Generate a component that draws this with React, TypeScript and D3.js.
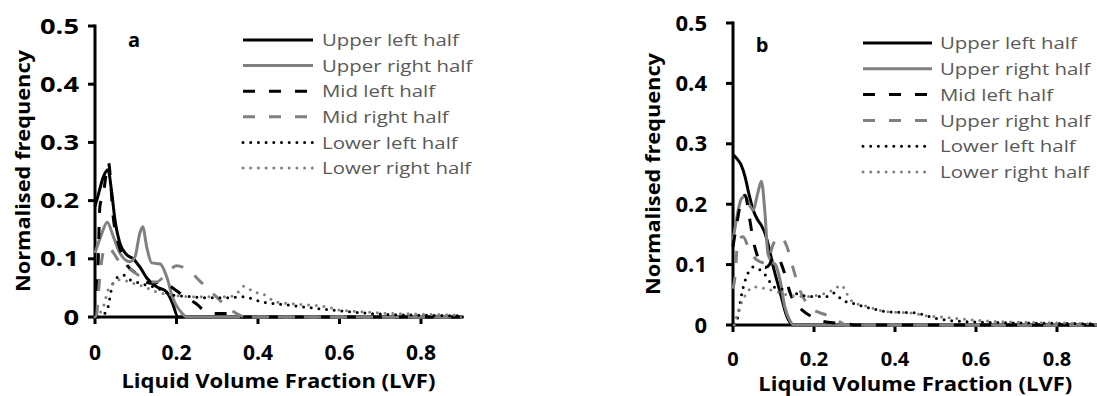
import React from 'react';
import * as d3 from 'd3';

type Pt = [number, number];

const xTicks = [0, 0.2, 0.4, 0.6, 0.8];
const yTicks = [0, 0.1, 0.2, 0.3, 0.4, 0.5];
const xTitle = 'Liquid Volume Fraction (LVF)';
const yTitle = 'Normalised frequency';

const labelsA = ['Upper left half', 'Upper right half', 'Mid left half', 'Mid right half', 'Lower left half', 'Lower right half'];
const labelsB = ['Upper left half', 'Upper right half', 'Mid left half', 'Upper right half', 'Lower left half', 'Lower right half'];

// Panel a
const aUpperLeft: Pt[] = [[0, 0.19], [0.01, 0.215], [0.02, 0.24], [0.032, 0.253], [0.04, 0.22], [0.049, 0.167], [0.061, 0.127], [0.078, 0.107], [0.094, 0.1], [0.11, 0.086], [0.127, 0.067], [0.151, 0.052], [0.176, 0.043], [0.19, 0.024], [0.204, 0], [0.9, 0]];
const aUpperRight: Pt[] = [[0, 0.11], [0.015, 0.14], [0.03, 0.163], [0.045, 0.138], [0.061, 0.11], [0.086, 0.095], [0.098, 0.103], [0.11, 0.144], [0.117, 0.155], [0.127, 0.12], [0.139, 0.093], [0.16, 0.091], [0.176, 0.069], [0.19, 0.035], [0.213, 0.007], [0.225, 0], [0.9, 0]];
const aMidLeft: Pt[] = [[0.003, 0], [0.008, 0.1], [0.012, 0.19], [0.02, 0.21], [0.033, 0.265], [0.045, 0.17], [0.06, 0.12], [0.078, 0.09], [0.1, 0.075], [0.12, 0.062], [0.14, 0.058], [0.16, 0.06], [0.18, 0.055], [0.2, 0.045], [0.22, 0.035], [0.25, 0.022], [0.27, 0.01], [0.3, 0.006], [0.33, 0.006], [0.35, 0], [0.9, 0]];
const aMidRight: Pt[] = [[0.004, 0], [0.012, 0.07], [0.025, 0.12], [0.04, 0.115], [0.06, 0.095], [0.08, 0.085], [0.1, 0.075], [0.12, 0.065], [0.15, 0.06], [0.17, 0.07], [0.2, 0.088], [0.23, 0.08], [0.26, 0.06], [0.29, 0.04], [0.32, 0.02], [0.35, 0.005], [0.37, 0], [0.9, 0]];
const aLowerLeft: Pt[] = [[0.008, 0], [0.02, 0.004], [0.03, 0.012], [0.037, 0.035], [0.041, 0.05], [0.053, 0.067], [0.069, 0.072], [0.086, 0.064], [0.11, 0.058], [0.151, 0.05], [0.19, 0.038], [0.233, 0.035], [0.28, 0.033], [0.33, 0.033], [0.36, 0.035], [0.41, 0.026], [0.48, 0.02], [0.58, 0.012], [0.7, 0.005], [0.8, 0.003], [0.9, 0.002]];
const aLowerRight: Pt[] = [[0, 0], [0.02, 0.017], [0.032, 0.046], [0.045, 0.058], [0.061, 0.064], [0.094, 0.058], [0.127, 0.05], [0.151, 0.043], [0.19, 0.038], [0.23, 0.035], [0.33, 0.035], [0.356, 0.046], [0.365, 0.053], [0.39, 0.043], [0.41, 0.04], [0.445, 0.026], [0.5, 0.022], [0.57, 0.017], [0.6, 0.012], [0.66, 0.009], [0.7, 0.007], [0.8, 0.005], [0.9, 0.003]];

// Panel b
const bUpperLeft: Pt[] = [[0, 0.282], [0.01, 0.275], [0.02, 0.265], [0.03, 0.245], [0.04, 0.215], [0.05, 0.19], [0.06, 0.175], [0.07, 0.165], [0.08, 0.15], [0.09, 0.125], [0.1, 0.095], [0.11, 0.07], [0.12, 0.045], [0.13, 0.02], [0.14, 0.005], [0.15, 0], [0.9, 0]];
const bUpperRight: Pt[] = [[0, 0.14], [0.01, 0.18], [0.02, 0.208], [0.03, 0.213], [0.04, 0.2], [0.05, 0.19], [0.06, 0.215], [0.07, 0.238], [0.079, 0.185], [0.086, 0.119], [0.095, 0.105], [0.105, 0.1], [0.116, 0.075], [0.128, 0.03], [0.14, 0.008], [0.15, 0], [0.9, 0]];
const bMidLeft: Pt[] = [[0, 0.13], [0.01, 0.17], [0.02, 0.205], [0.03, 0.215], [0.04, 0.18], [0.05, 0.14], [0.06, 0.115], [0.07, 0.1], [0.08, 0.095], [0.09, 0.1], [0.1, 0.113], [0.11, 0.115], [0.12, 0.1], [0.13, 0.08], [0.14, 0.055], [0.15, 0.04], [0.17, 0.025], [0.2, 0.012], [0.23, 0.005], [0.28, 0.002], [0.3, 0], [0.9, 0]];
const bMidRight: Pt[] = [[0, 0.06], [0.005, 0.08], [0.012, 0.14], [0.025, 0.146], [0.037, 0.13], [0.058, 0.108], [0.083, 0.102], [0.1, 0.135], [0.116, 0.146], [0.133, 0.13], [0.148, 0.095], [0.165, 0.058], [0.19, 0.03], [0.215, 0.02], [0.247, 0.013], [0.264, 0.005], [0.28, 0], [0.9, 0]];
const bLowerLeft: Pt[] = [[0.005, 0], [0.01, 0.008], [0.022, 0.053], [0.037, 0.086], [0.05, 0.096], [0.067, 0.091], [0.083, 0.08], [0.1, 0.063], [0.133, 0.058], [0.165, 0.05], [0.198, 0.047], [0.23, 0.047], [0.25, 0.053], [0.27, 0.041], [0.296, 0.036], [0.338, 0.028], [0.38, 0.022], [0.45, 0.02], [0.5, 0.011], [0.56, 0.006], [0.65, 0.004], [0.75, 0.003], [0.9, 0.002]];
const bLowerRight: Pt[] = [[0.003, 0], [0.017, 0.03], [0.034, 0.053], [0.05, 0.063], [0.075, 0.061], [0.108, 0.055], [0.133, 0.05], [0.173, 0.047], [0.215, 0.05], [0.247, 0.058], [0.268, 0.066], [0.28, 0.053], [0.296, 0.038], [0.33, 0.031], [0.38, 0.022], [0.44, 0.02], [0.48, 0.015], [0.52, 0.013], [0.58, 0.009], [0.64, 0.006], [0.75, 0.004], [0.88, 0.002], [0.9, 0.001]];

const seriesA = [aUpperLeft, aUpperRight, aMidLeft, aMidRight, aLowerLeft, aLowerRight];
const seriesB = [bUpperLeft, bUpperRight, bMidLeft, bMidRight, bLowerLeft, bLowerRight];

const GREY = '#808080';
const STYLES = [
  { color: '#000', dash: undefined as string | undefined, cap: 'butt' },
  { color: GREY, dash: undefined as string | undefined, cap: 'butt' },
  { color: '#000', dash: '12 14', cap: 'butt' },
  { color: GREY, dash: '12 14', cap: 'butt' },
  { color: '#000', dash: '0 7.7', cap: 'round' },
  { color: GREY, dash: '0 7.7', cap: 'round' },
];

const FONT = '"Open Sans", "Noto Sans", sans-serif';

interface PanelCfg {
  letter: string;
  letterX: number;
  letterY: number;
  x0: number;
  xUnit: number;
  y0: number;
  yTop: number;
  xTickY: number;
  xTickSize: number;
  xTitleY: number;
  xTitleSize: number;
  yTickRight: number;
  yTickSx: number;
  yTitleX: number;
  yTitleY: number;
  legLineX0: number;
  legLineX1: number;
  legTextX: number;
  legY0: number;
  legStep: number;
  labels: string[];
  series: Pt[][];
}

const panels: PanelCfg[] = [
  {
    letter: 'a', letterX: 134, letterY: 47,
    x0: 95, xUnit: 407.5, y0: 317, yTop: 26,
    xTickY: 360, xTickSize: 21, xTitleY: 388, xTitleSize: 20, yTickRight: 79, yTickSx: 1.3, yTitleX: 23, yTitleY: 171,
    legLineX0: 243, legLineX1: 313, legTextX: 322, legY0: 40, legStep: 25.6,
    labels: labelsA, series: seriesA,
  },
  {
    letter: 'b', letterX: 762, letterY: 52,
    x0: 733, xUnit: 405, y0: 325, yTop: 23,
    xTickY: 365.5, xTickSize: 20, xTitleY: 390.5, xTitleSize: 19, yTickRight: 707, yTickSx: 1.05, yTitleX: 653, yTitleY: 174,
    legLineX0: 863, legLineX1: 932, legTextX: 940, legY0: 43, legStep: 25.8,
    labels: labelsB, series: seriesB,
  },
];

function Panel({ p }: { p: PanelCfg }) {
  const x = d3.scaleLinear().domain([0, 0.9]).range([p.x0, p.x0 + 0.9 * p.xUnit]);
  const y = d3.scaleLinear().domain([0, 0.5]).range([p.y0, p.yTop]);
  const line = d3.line<Pt>().x(d => x(d[0])).y(d => y(d[1])).curve(d3.curveMonotoneX);
  const xr = x.range();
  const fmt = (v: number) => (v === 0 ? '0' : v.toFixed(1));
  return (
    <g>
      {/* axes */}
      <line x1={xr[0]} x2={xr[1] + 2} y1={p.y0} y2={p.y0} stroke="#000" strokeWidth={3} />
      <line x1={p.x0} x2={p.x0} y1={p.yTop - 1.5} y2={p.y0 + 1.5} stroke="#000" strokeWidth={3} />
      {xTicks.map(t => (
        <line key={'xt' + t} x1={x(t)} x2={x(t)} y1={p.y0} y2={p.y0 + 7} stroke="#000" strokeWidth={3} />
      ))}
      {yTicks.map(t => (
        <line key={'yt' + t} x1={p.x0 - 7} x2={p.x0} y1={y(t)} y2={y(t)} stroke="#000" strokeWidth={3} />
      ))}
      {/* series */}
      {p.series.map((s, i) => (
        <path key={'s' + i} d={line(s) || ''} fill="none" stroke={STYLES[i].color} strokeWidth={3}
          strokeDasharray={STYLES[i].dash} strokeLinecap={STYLES[i].cap as any} strokeLinejoin="round" />
      ))}
      {/* tick labels */}
      {xTicks.map(t => (
        <text key={'xl' + t} x={x(t)} y={p.xTickY} textAnchor="middle" fontFamily={FONT} fontWeight="bold" fontSize={p.xTickSize} fill="#000">{fmt(t)}</text>
      ))}
      {yTicks.map(t => (
        <text key={'yl' + t} transform={`translate(${p.yTickRight},${y(t)}) scale(${p.yTickSx},1)`} dy="0.36em" textAnchor="end" fontFamily={FONT} fontWeight="bold" fontSize={21} fill="#000">{fmt(t)}</text>
      ))}
      <text x={(xr[0] + xr[1]) / 2} y={p.xTitleY} textAnchor="middle" fontFamily={FONT} fontWeight="bold" fontSize={p.xTitleSize}
        textLength={314} lengthAdjust="spacingAndGlyphs" fill="#000">{xTitle}</text>
      <text transform={`translate(${p.yTitleX},${p.yTitleY}) rotate(-90)`} x={0} y={0} dy="0.36em" textAnchor="middle" fontFamily={FONT} fontWeight="bold" fontSize={20}
        textLength={242} lengthAdjust="spacingAndGlyphs" fill="#000">{yTitle}</text>
      <text x={p.letterX} y={p.letterY} textAnchor="middle" fontFamily={FONT} fontWeight="bold" fontSize={20} fill="#000">{p.letter}</text>
      {/* legend */}
      {p.labels.map((lab, i) => {
        const ly = p.legY0 + i * p.legStep;
        return (
          <g key={'lg' + i}>
            <line x1={p.legLineX0} x2={p.legLineX1} y1={ly} y2={ly} stroke={STYLES[i].color} strokeWidth={3}
              strokeDasharray={STYLES[i].dash} strokeLinecap={STYLES[i].cap as any} />
            <text transform={`translate(${p.legTextX},${ly}) scale(1.2,1)`} dy="0.36em" fontFamily={FONT} fontSize={17} fill="#595959">{lab}</text>
          </g>
        );
      })}
    </g>
  );
}

export default function App() {
  return (
    <div style={{ position: 'absolute', left: 0, top: 0 }}>
      <svg width={1097} height={396} viewBox="0 0 1097 396" style={{ display: 'block', background: '#fff' }}>
        {panels.map((p, i) => <Panel key={i} p={p} />)}
      </svg>
    </div>
  );
}
